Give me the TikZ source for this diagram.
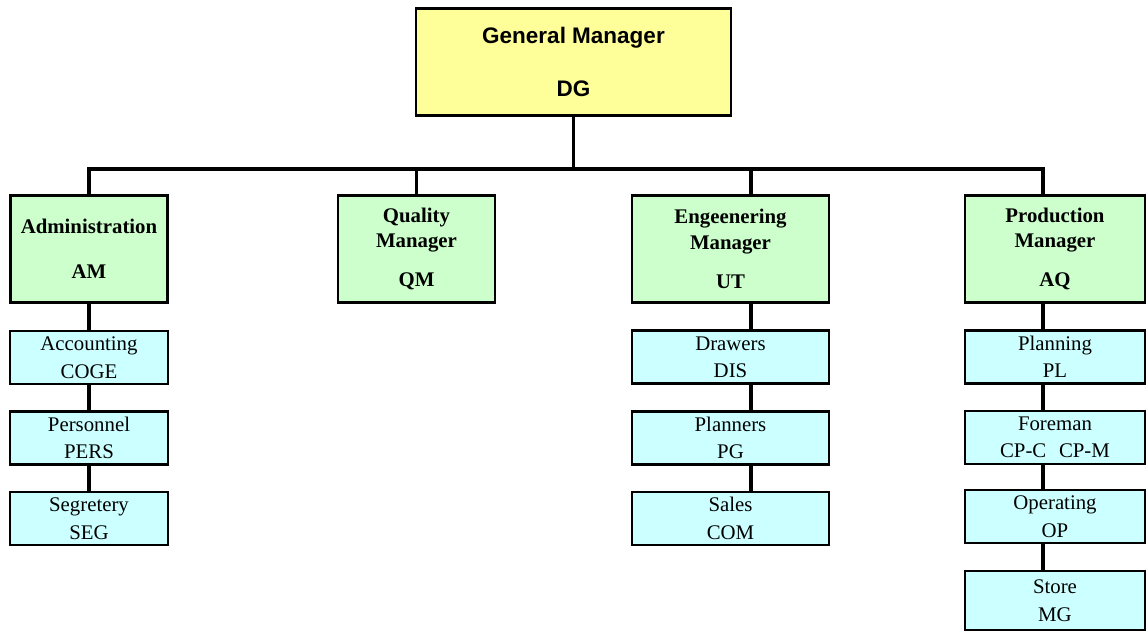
\documentclass[tikz,border=0pt]{standalone}
\usepackage{fontspec}
\setmainfont{Liberation Serif}
\newfontfamily\arialfont{Liberation Sans}
\definecolor{gmyellow}{HTML}{FFFF99}
\definecolor{mgrgreen}{HTML}{CCFFCC}
\definecolor{unitcyan}{HTML}{CCFFFF}

\begin{document}
\begin{tikzpicture}
[-,x=0.025cm,y=-0.025cm,%
  every node/.style={shape=rectangle,draw,line width=2pt,align=center,inner sep=0pt},%
  conn/.style={draw=black,line width=2.2pt},%
  boss/.style={fill=gmyellow,minimum width=7.875cm,minimum height=2.68cm,
    font=\arialfont\bfseries\fontsize{16}{19}\selectfont},%
  mgr/.style={fill=mgrgreen,minimum height=2.69cm,
    font=\bfseries\fontsize{14.8}{18}\selectfont},%
  unit/.style={fill=unitcyan,minimum height=1.325cm,
    font=\fontsize{14.8}{19.5}\selectfont}]
\useasboundingbox (0,0) rectangle (1146,633);
\node[boss] (dg) at (573.5,62) {General Manager\\[18.6pt]DG};
% managers
\node[mgr,minimum width=3.925cm] (am) at (89,249) {Administration\\[14pt]AM};
\node[mgr,minimum width=3.925cm] (qm) at (416.5,249) {Quality\\Manager\\[10pt]QM};
\node[mgr,minimum width=4.925cm] (ut) at (730.5,249) {Engeenering\\Manager\\[10pt]UT};
\node[mgr,minimum width=4.5cm] (aq) at (1055,249) {Production\\Manager\\[10pt]AQ};
% units
\node[unit,minimum width=3.95cm] (coge) at (89,357.5) {Accounting\\COGE};
\node[unit,minimum width=3.95cm] (pers) at (89,438) {Personnel\\PERS};
\node[unit,minimum width=3.95cm] (seg) at (89,518.5) {Segretery\\SEG};
\node[unit,minimum width=4.925cm] (dis) at (730.5,357) {Drawers\\DIS};
\node[unit,minimum width=4.925cm] (pg) at (730.5,438) {Planners\\PG};
\node[unit,minimum width=4.925cm] (com) at (730.5,518.5) {Sales\\COM};
\node[unit,minimum width=4.5cm] (pl) at (1055,357) {Planning\\PL};
\node[unit,minimum width=4.5cm] (cp) at (1055,437.5) {Foreman\\CP-C\hspace{9pt}CP-M};
\node[unit,minimum width=4.5cm] (op) at (1055,516.5) {Operating\\OP};
\node[unit,minimum width=4.5cm,minimum height=1.475cm] (mg) at (1055,600.5) {Store\\MG};
% connectors
\coordinate (utx) at (751,169);
\coordinate (aqx) at (1043,169);
\draw[conn] (dg.south) -- (dg.south |- utx);
\draw[conn] (am.north) |- (aqx) -- (aqx |- aq.north);
\draw[conn] (qm.north) -- (qm.north |- utx);
\draw[conn] (utx) -- (utx |- ut.north);
\foreach \a/\b in {am/coge,coge/pers,pers/seg}
  \draw[conn] (\a.south) -- (\b.north);
\foreach \a/\b in {ut/dis,dis/pg,pg/com}
  \draw[conn] (\a.south -| utx) -- (\b.north -| utx);
\foreach \a/\b in {aq/pl,pl/cp,cp/op,op/mg}
  \draw[conn] (\a.south -| aqx) -- (\b.north -| aqx);
\end{tikzpicture}
\end{document}
